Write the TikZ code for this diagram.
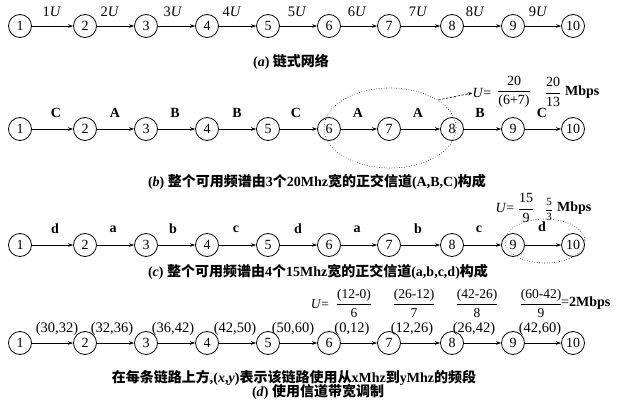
\documentclass[tikz,border=0pt]{standalone}
\usepackage{fontspec}
\setmainfont{Liberation Serif}
\newfontfamily\cjk{Noto Sans CJK SC}
\usetikzlibrary{arrows.meta}
\begin{document}
\begin{tikzpicture}[x=1pt,y=-1pt,
  nd/.style={circle,draw,line width=0.8pt,minimum size=23pt,inner sep=0pt,font=\fontsize{14}{14}\selectfont},
  ar/.style={-{Stealth[length=5pt,width=3.6pt]},line width=0.7pt},
  lb/.style={font=\fontsize{14.5}{14.5}\selectfont,inner sep=0pt},
  lbb/.style={font=\fontsize{14}{14}\selectfont\bfseries,inner sep=0pt},
  captxt/.style={font=\fontsize{14}{14}\selectfont,inner sep=0pt},
  fm/.style={font=\fontsize{14}{14}\selectfont,inner sep=0pt},
  fmd/.style={font=\fontsize{13.5}{13.5}\selectfont,inner sep=0pt},
  mbps/.style={font=\fontsize{14}{14}\selectfont\bfseries,inner sep=0pt},
  dotln/.style={line width=0.7pt,dash pattern=on 0.1pt off 2.4pt,line cap=round},
  dashln/.style={line width=0.6pt,dash pattern=on 2.5pt off 1.5pt,-{Stealth[length=4.5pt,width=3.2pt]}}]
\useasboundingbox (0,0) rectangle (621,401);
% nodes
\foreach \r/\yy in {a/26,b/129,c/245,d/343}{
  \foreach \i/\x in {1/20,2/85,3/146,4/207,5/268,6/329,7/389,8/452,9/513,10/573}{
    \node[nd] (\r\i) at (\x,\yy) {\i};
  }
  \foreach \i in {1,...,9}{
    \pgfmathtruncatemacro\j{\i+1}
    \draw[ar] (\r\i) -- (\r\j);
  }
}
% row a labels
\foreach \n/\x in {1/52,2/110,3/173,4/232,5/297,6/357,7/418,8/475,9/538}{
  \node[lb] (la\n) at (\x,12) {\n\textit{U}};
}
\node[captxt] (capa) at (291,62) {\textbf{(\textit{a})} {\cjk\bfseries 链式网络}};
% row b labels
\foreach \n/\t/\x in {1/C/56,2/A/115,3/B/175,4/B/237,5/C/296,6/A/358,7/A/418,8/B/480,9/C/542}{
  \node[lbb] (lb\n) at (\x,113) {\t};
}
\draw[dotln] (390,128) ellipse [x radius=66, y radius=40];
\coordinate (eb) at (438,100);
\node[fm] (ub) at (482,93) {\textit{U}=};
\node[fm] (fb1) at (514,92) {$\displaystyle\frac{\hbox{20}}{\hbox{(6+7)}}$};
\node[fm] (fb2) at (553,92) {$\displaystyle\frac{\hbox{20}}{\hbox{13}}$};
\node[mbps,anchor=west] (mb) at (565,92) {Mbps};
\draw[dashln] (eb) -- (ub.west);
\node[captxt] (capb) at (317,182) {\textbf{(\textit{b})} {\cjk\bfseries 整个可用频谱由}\textbf{3}{\cjk\bfseries 个}\textbf{20Mhz}{\cjk\bfseries 宽的正交信道}\textbf{(A,B,C)}{\cjk\bfseries 构成}};
% row c labels
\foreach \n/\t/\x in {1/d/55,2/a/113,3/b/173,4/c/236,5/d/298,6/a/357,7/b/418,8/c/479}{
  \node[lbb] (lc\n) at (\x,229) {\t};
}
\node[lbb] (lc9) at (542,227) {d};
\draw[dotln] (545,241) ellipse [x radius=40, y radius=22];
\node[fm] (uc) at (505,208) {\textit{U}=};
\node[fm] (fc1) at (526,208) {$\displaystyle\frac{\hbox{15}}{\hbox{9}}$};
\node[fm,font=\fontsize{11}{11}\selectfont] (fc2) at (549,209) {$\displaystyle\frac{\hbox{5}}{\hbox{3}}$};
\node[mbps,anchor=west] (mc) at (557,208) {Mbps};
\node[captxt] (capc) at (318,272) {\textbf{(\textit{c})} {\cjk\bfseries 整个可用频谱由}\textbf{4}{\cjk\bfseries 个}\textbf{15Mhz}{\cjk\bfseries 宽的正交信道}\textbf{(a,b,c,d)}{\cjk\bfseries 构成}};
% row d labels
\foreach \n/\t/\x in {1/{(30,32)}/57,2/{(32,36)}/112,3/{(36,42)}/173,4/{(42,50)}/235,5/{(50,60)}/293,6/{(0,12)}/352,7/{(12,26)}/412,8/{(26,42)}/474,9/{(42,60)}/540}{
  \node[lb] (ld\n) at (\x,329) {\t};
}
\node[fmd] (ud) at (320,304) {\textit{U}=};
\node[fmd] (fd1) at (354,303.5) {$\displaystyle\frac{\hbox{(12-0)}}{\hbox{6}}$};
\node[fmd] (fd2) at (414,303.5) {$\displaystyle\frac{\hbox{(26-12)}}{\hbox{7}}$};
\node[fmd] (fd3) at (477,303.5) {$\displaystyle\frac{\hbox{(42-26)}}{\hbox{8}}$};
\node[fmd] (fd4) at (541,303.5) {$\displaystyle\frac{\hbox{(60-42)}}{\hbox{9}}$};
\node[mbps,anchor=west] (md) at (561,303) {\mdseries=\bfseries 2Mbps};
\node[captxt] (capd1) at (294,378) {{\cjk\bfseries 在每条链路上方}\textbf{,(\textit{x},\textit{y})}{\cjk\bfseries 表示该链路使用从}\textbf{xMhz}{\cjk\bfseries 到}\textbf{yMhz}{\cjk\bfseries 的频段}};
\node[captxt] (capd2) at (318,392) {\textbf{(\textit{d})} {\cjk\bfseries 使用信道带宽调制}};
\end{tikzpicture}
\end{document}
